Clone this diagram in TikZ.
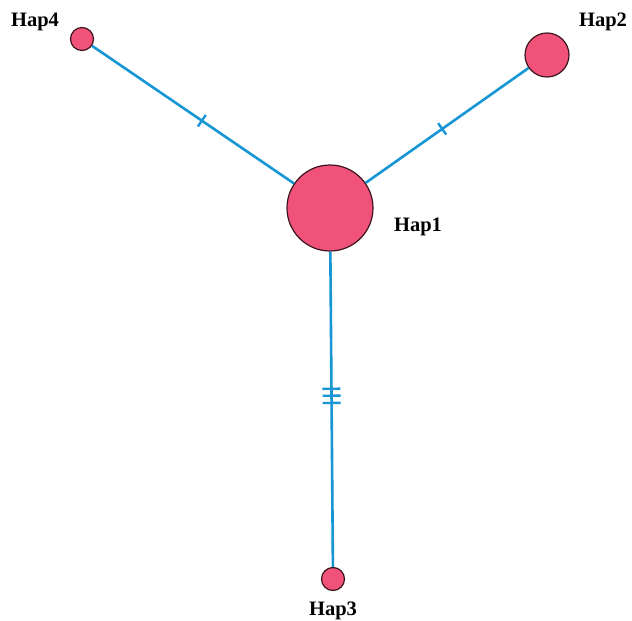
\documentclass[tikz,border=0pt]{standalone}
\usepackage{fontspec}
\setmainfont{Liberation Serif}
\usetikzlibrary{decorations.markings}
\definecolor{linkblue}{RGB}{22,150,212}
\definecolor{happink}{RGB}{240,82,122}
\definecolor{hapedge}{RGB}{60,20,30}
\tikzset{
  hap/.style={circle, draw=hapedge, line width=1.2pt, fill=happink, inner sep=0pt},
  link/.style={draw=linkblue, line width=2.6pt},
  tickmark/.style={draw=linkblue, line width=2.4pt},
  lab/.style={font=\fontsize{20.5}{22}\selectfont\bfseries, inner sep=0pt},
  onetick/.style={postaction={decorate}, decoration={markings,
     mark=at position #1 with {\draw[tickmark] (0,-7pt) -- (0,7pt);}}},
  threetick/.style n args={3}{postaction={decorate}, decoration={markings,
     mark=at position #1 with {\draw[tickmark] (0,-9pt) -- (0,9pt);},
     mark=at position #2 with {\draw[tickmark] (0,-9pt) -- (0,9pt);},
     mark=at position #3 with {\draw[tickmark] (0,-9pt) -- (0,9pt);}}}
}
\begin{document}
\begin{tikzpicture}[x=1pt,y=-1pt]
\useasboundingbox (0,0) rectangle (632,621);
\node[hap, minimum size=86pt] (h1) at (330,208) {};
\node[hap, minimum size=44pt] (h2) at (547,55) {};
\node[hap, minimum size=23pt] (h3) at (333,579) {};
\node[hap, minimum size=23pt] (h4) at (82,39) {};
\draw[link, onetick=0.544] (h4) -- (h1);
\draw[link, onetick=0.47] (h1) -- (h2);
\draw[link, threetick={0.435}{0.457}{0.48}] (h1) -- (h3);
\node[lab] (l1) at (418,227) {Hap1};
\node[lab] (l2) at (603,22) {Hap2};
\node[lab] (l3) at (333,611) {Hap3};
\node[lab] (l4) at (35,22) {Hap4};
\end{tikzpicture}
\end{document}
